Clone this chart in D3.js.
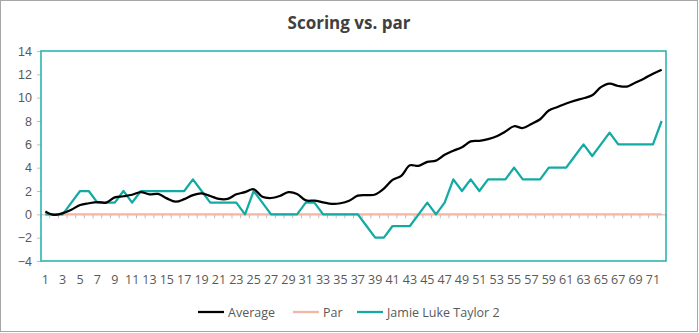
<!DOCTYPE html>
<html><head><meta charset="utf-8">
<script src="https://cdn.jsdelivr.net/npm/d3@7"></script>
<style>html,body{margin:0;padding:0;background:#fff;} svg{display:block;font-family:"Open Sans","Noto Sans",sans-serif;}</style>
</head><body><svg id="c" width="699" height="333"></svg>
<script>
const title = "Scoring vs. par";
const holes = d3.range(1, 73);
const average = [0.25,-0.05,0.1,0.4,0.8,0.95,1.05,1.0,1.45,1.55,1.68,1.9,1.72,1.75,1.37,1.08,1.3,1.65,1.8,1.57,1.32,1.32,1.72,1.9,2.15,1.5,1.4,1.57,1.9,1.75,1.2,1.17,1.03,0.9,0.95,1.17,1.6,1.65,1.7,2.2,2.95,3.3,4.2,4.15,4.5,4.6,5.1,5.45,5.75,6.25,6.3,6.45,6.7,7.1,7.55,7.4,7.75,8.15,8.9,9.2,9.5,9.75,9.95,10.2,10.9,11.2,11.0,10.95,11.3,11.65,12.05,12.4];
const par = holes.map(() => 0);
const jamie = [0,0,0,1,2,2,1,1,1,2,1,2,2,2,2,2,2,3,2,1,1,1,1,0,2,1,0,0,0,0,1,1,0,0,0,0,0,-1,-2,-2,-1,-1,-1,0,1,0,1,3,2,3,2,3,3,3,4,3,3,3,4,4,4,5,6,5,6,7,6,6,6,6,6,8];
const yTicks = [-4,-2,0,2,4,6,8,10,12,14];
const xTickLabels = holes.filter(h => h % 2 === 1);
const seriesNames = ["Average","Par","Jamie Luke Taylor 2"];
const colors = ["#000000","#F4B5A5","#14AAA4"];

const svg = d3.select("#c");
const L = 41, R = 666, T = 51, B = 261;
svg.append("rect").attr("x",0.5).attr("y",0.5).attr("width",697).attr("height",331)
  .attr("fill","#fff").attr("stroke","#A6A6A6").attr("stroke-width",1);

svg.append("text").attr("x",349).attr("y",29).attr("text-anchor","middle")
  .attr("font-size",17).attr("font-weight","bold").attr("fill","#404040").text(title);

const x = d3.scaleBand().domain(holes).range([L, R]);
const xc = d => x(d) + x.bandwidth()/2;
const y = d3.scaleLinear().domain([-4, 14]).range([B, T]);

// y axis
const ya = svg.append("g").attr("transform",`translate(${L},0)`)
  .call(d3.axisLeft(y).tickValues(yTicks).tickSize(4).tickPadding(5));
ya.select(".domain").remove();
ya.selectAll("line").attr("stroke","#BFBFBF");
ya.selectAll("text").attr("font-size",12.5).attr("fill","#595959");

// x axis at zero
const xa = svg.append("g").attr("transform",`translate(0,${y(0)})`)
  .call(d3.axisBottom(x).tickValues([]).tickSize(0));
xa.select(".domain").attr("stroke","#BFBFBF");
const bounds = holes.map(h => x(h)).concat([R]);
svg.append("g").selectAll("line").data(bounds).join("line")
  .attr("x1",d=>d).attr("x2",d=>d).attr("y1",y(0)).attr("y2",y(0)+4)
  .attr("stroke","#BFBFBF").attr("stroke-width",1);
svg.append("g").selectAll("text").data(xTickLabels).join("text")
  .attr("x",d=>xc(d)).attr("y",284).attr("text-anchor","middle")
  .attr("font-size",12.5).attr("fill","#595959").text(d=>d);

// plot border
svg.append("rect").attr("x",L).attr("y",T).attr("width",R-L).attr("height",B-T)
  .attr("fill","none").attr("stroke","#20B0AA").attr("stroke-width",1.5);

const straight = d3.line().x((d,i)=>xc(holes[i])).y(d=>y(d));
const smooth = d3.line().x((d,i)=>xc(holes[i])).y(d=>y(d)).curve(d3.curveCatmullRom.alpha(0.5));

svg.append("path").datum(par).attr("d",straight).attr("fill","none")
  .attr("stroke",colors[1]).attr("stroke-width",2);
svg.append("path").datum(jamie).attr("d",straight).attr("fill","none")
  .attr("stroke",colors[2]).attr("stroke-width",2.25).attr("stroke-linejoin","round");
svg.append("path").datum(average).attr("d",smooth).attr("fill","none")
  .attr("stroke",colors[0]).attr("stroke-width",2.25).attr("stroke-linejoin","round");

// legend
const legendItems = [{x:198},{x:293},{x:357}];
const lg = svg.append("g");
seriesNames.forEach((n,i)=>{
  const lx = legendItems[i].x;
  lg.append("line").attr("x1",lx).attr("x2",lx+26).attr("y1",312).attr("y2",312)
    .attr("stroke",colors[i]).attr("stroke-width",2.25);
  lg.append("text").attr("x",lx+30).attr("y",316.5).attr("font-size",12.5)
    .attr("fill","#595959").text(n);
});
</script></body></html>
